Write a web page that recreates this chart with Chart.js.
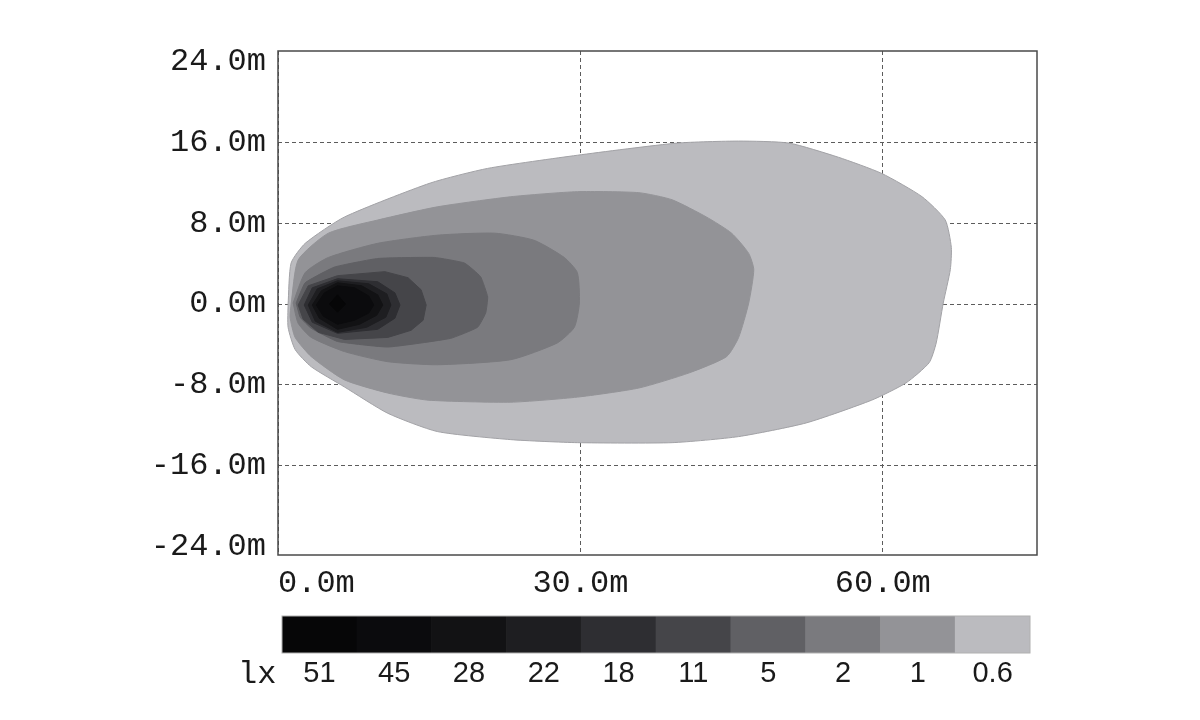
<!DOCTYPE html>
<html>
<head>
<meta charset="utf-8">
<script src="https://cdn.jsdelivr.net/npm/chart.js@4.4.1/dist/chart.umd.min.js"></script>
<style>
  body { margin: 0; background: #fff; width: 1200px; height: 720px; overflow: hidden; position: relative; }
  #mapChart { position: absolute; left: 0; top: 0; }
  #barChart { position: absolute; left: 0; top: 600px; }
  #unit { position: absolute; left: 238px; top: 655px; font: 32px "Liberation Mono", monospace; color: #1a1a1a; line-height: 40px; }
</style>
</head>
<body>
<canvas id="mapChart" width="1200" height="600"></canvas>
<canvas id="barChart" width="1200" height="120"></canvas>
<div id="unit">lx</div>
<script>
// lux levels of the colour key, darkest first
const luxLevels = ['51', '45', '28', '22', '18', '11', '5', '2', '1', '0.6'];
const luxColors = ['#060607', '#0b0b0d', '#121214', '#1e1e21', '#2e2e32', '#454549', '#606064', '#7a7a7e', '#939397', '#bbbbbf'];

// tick values (m)
const xTicks = [0, 30, 60];
const yTicks = [-24, -16, -8, 0, 8, 16, 24];

// iso-lux contours, [x m, y m]
const contour51 = [[5.1, 0], [5.9, 0.9], [6.7, 0], [5.9, -0.8]];
const contour45 = [[3.8, -0.1], [4.6, 1.1], [5.9, 1.8], [7.6, 1.6], [9.0, 0.8], [9.5, -0.1], [9.0, -0.9], [7.6, -1.6], [5.9, -2.0], [4.5, -1.2]];
const contour28 = [[3.4, -0.1], [4.3, 1.3], [5.9, 2.1], [8.3, 1.8], [9.9, 0.9], [10.4, -0.1], [9.8, -1.1], [8.1, -2.0], [5.9, -2.5], [4.1, -1.4]];
const contour22 = [[3.0, -0.1], [3.9, 1.5], [5.9, 2.3], [9.0, 2.0], [10.8, 1.0], [11.2, -0.1], [10.7, -1.3], [8.8, -2.3], [5.9, -2.8], [3.7, -1.7]];
const contour18 = [[2.6, -0.1], [3.4, 1.6], [5.9, 2.5], [9.9, 2.2], [11.6, 1.1], [12.1, -0.1], [11.6, -1.4], [9.9, -2.5], [5.9, -2.9], [3.4, -1.8]];
const contour11 = [[2.0, -0.1], [3.0, 1.8], [5.9, 2.8], [10.6, 3.2], [12.9, 2.6], [14.2, 1.4], [14.7, -0.1], [14.4, -1.6], [13.2, -2.6], [10.9, -3.3], [6.6, -3.5], [4.0, -2.8], [2.5, -1.5]];
const contour5 = [[1.8, 0.1], [2.7, 2.1], [5.6, 3.65], [9.9, 4.5], [15.5, 4.6], [18.5, 4.05], [20.1, 2.7], [20.8, 0.7], [20.6, -0.9], [19.8, -2.3], [17.1, -3.4], [10.9, -4.25], [5.9, -3.7], [3.3, -2.4], [2.2, -1.3]];
const contour2 = [[1.5, 0.1], [2.7, 3.1], [5.0, 4.6], [9.9, 6.0], [15.8, 6.8], [21.5, 7.0], [25.4, 6.3], [28.4, 4.6], [29.7, 3.1], [29.9, 0.1], [29.4, -2.3], [27.7, -3.85], [23.1, -5.5], [15.8, -6.0], [10.9, -5.7], [6.6, -4.7], [3.3, -3.3], [2.0, -1.9]];
const contour1 = [[1.3, 0], [2.0, 4.35], [5.0, 7.0], [9.9, 8.3], [15.8, 9.6], [23.1, 10.6], [29.7, 11.1], [35.8, 11.0], [39.1, 10.3], [42.5, 8.6], [45.0, 7.0], [46.7, 5.0], [47.2, 3.4], [46.7, 0.1], [45.7, -3.3], [44.5, -5.2], [40.8, -6.8], [35.8, -8.3], [29.7, -9.2], [23.1, -9.7], [14.9, -9.5], [10.9, -8.8], [6.6, -7.5], [3.3, -5.2], [1.7, -3.3], [1.2, -1.3]];
const contour06 = [[1.0, 0], [1.3, 4.05], [2.7, 6.0], [6.6, 8.6], [15.1, 11.95], [20.8, 13.4], [29.7, 14.7], [39.6, 15.9], [45.7, 16.1], [50.7, 15.9], [55.6, 14.5], [59.9, 12.9], [63.9, 10.6], [66.2, 8.3], [66.8, 5.6], [66.7, 3.4], [66.0, 0.1], [65.3, -3.85], [64.6, -5.8], [62.3, -7.8], [58.9, -9.5], [52.4, -11.75], [45.7, -13.1], [39.1, -13.7], [29.7, -13.7], [23.1, -13.4], [15.8, -12.6], [10.9, -10.8], [6.6, -8.2], [3.3, -6.2], [1.7, -4.5], [1.0, -2.3]];

// same order as luxLevels
const contours = [contour51, contour45, contour28, contour22, contour18, contour11, contour5, contour2, contour1, contour06];
const smoothing = [0, 0, 0, 0, 0, 0, 0.12, 0.2, 0.2, 0.2];

const monoFont = '"Liberation Mono", "DejaVu Sans Mono", monospace';
const sansFont = '"Liberation Sans", Arial, sans-serif';

// close each outline and turn it into a filled shape
const contourSets = contours.map((pts, i) => {
  const closed = pts.concat([pts[0]]);
  const last = i === contours.length - 1;
  return {
    label: luxLevels[i] + ' lx',
    data: closed.map(p => ({ x: p[0], y: p[1] })),
    backgroundColor: luxColors[i],
    borderColor: last ? '#a2a2a6' : luxColors[i],
    borderWidth: 1,
    pointRadius: 0,
    tension: smoothing[i],
    fill: 'shape'
  };
});

// plain frame around the plot area
const framePlugin = {
  id: 'frame',
  afterDraw(chart, args, opts) {
    const a = chart.chartArea;
    const ctx = chart.ctx;
    ctx.save();
    ctx.strokeStyle = opts.color;
    ctx.lineWidth = opts.width;
    ctx.strokeRect(a.left, a.top, a.right - a.left, a.bottom - a.top);
    ctx.restore();
  }
};

const gridStyle = ctx => (ctx.tick && Math.abs(ctx.tick.value) === 24) ? 'rgba(0,0,0,0)' : '#5c5c5c';

const mapChart = new Chart(document.getElementById('mapChart'), {
  type: 'line',
  data: { datasets: contourSets },
  plugins: [framePlugin],
  options: {
    responsive: false,
    animation: false,
    layout: { padding: { top: 51, right: 163, left: 0, bottom: 0 } },
    plugins: {
      legend: { display: false },
      tooltip: { enabled: false },
      frame: { color: '#4a4a4a', width: 1.5 }
    },
    scales: {
      x: {
        type: 'linear',
        min: 0,
        max: 75.3,
        z: 1,
        afterBuildTicks: s => { s.ticks = xTicks.map(v => ({ value: v })); },
        afterFit: s => { s.height = 45; s.paddingLeft = 0; s.paddingRight = 0; },
        grid: { color: '#5c5c5c', lineWidth: 1, drawTicks: false },
        border: { display: false, dash: [4, 3] },
        ticks: {
          padding: 9,
          color: '#1a1a1a',
          maxRotation: 0,
          font: { family: monoFont, size: 32 },
          // first label starts at the frame, so pad it with blanks
          callback: v => (v === 0 ? '    ' : '') + v.toFixed(1) + 'm'
        }
      },
      y: {
        type: 'linear',
        min: -24.8,
        max: 25,
        z: 1,
        afterBuildTicks: s => { s.ticks = yTicks.map(v => ({ value: v })); },
        afterFit: s => { s.width = 278; s.paddingTop = 0; s.paddingBottom = 0; },
        grid: { color: gridStyle, lineWidth: 1, drawTicks: false },
        border: { display: false, dash: [4, 3] },
        ticks: {
          padding: 12,
          color: '#1a1a1a',
          font: { family: monoFont, size: 32 },
          callback: v => v.toFixed(1) + 'm'
        }
      }
    }
  }
});

// colour key underneath
const keyChart = new Chart(document.getElementById('barChart'), {
  type: 'bar',
  data: {
    labels: luxLevels,
    datasets: [{
      data: luxLevels.map(() => 1),
      backgroundColor: luxColors,
      borderWidth: 0,
      barPercentage: 1,
      categoryPercentage: 1
    }]
  },
  plugins: [framePlugin],
  options: {
    responsive: false,
    animation: false,
    layout: { padding: { top: 16, right: 170, left: 282, bottom: 0 } },
    plugins: {
      legend: { display: false },
      tooltip: { enabled: false },
      frame: { color: '#b0b0b0', width: 1 }
    },
    scales: {
      x: {
        grid: { display: false, drawTicks: false },
        border: { display: false },
        afterFit: s => { s.height = 67; },
        ticks: {
          padding: 4,
          color: '#1a1a1a',
          maxRotation: 0,
          font: { family: sansFont, size: 29 }
        }
      },
      y: { display: false, min: 0, max: 1 }
    }
  }
});
</script>
</body>
</html>
